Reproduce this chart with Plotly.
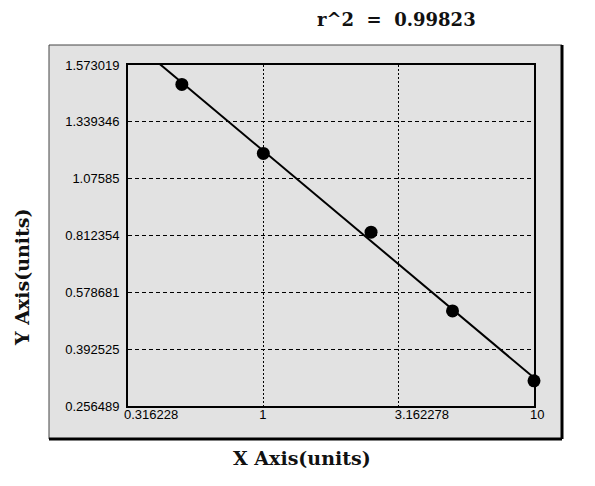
import numpy as np
import plotly.graph_objects as go

# ---- data ----
x_values = [0.5, 1.0, 2.5, 5.0, 10.0]
y_values = [1.498, 1.195, 0.827, 0.512, 0.311]
x_tick_values = [0.316228, 1, 3.162278, 10]
x_tick_labels = ["0.316228", "1", "3.162278", "10"]
y_tick_values = [0.256489, 0.392525, 0.578681, 0.812354, 1.07585, 1.339346, 1.573019]
y_tick_labels = ["0.256489", "0.392525", "0.578681", "0.812354", "1.07585", "1.339346", "1.573019"]
r2_text = "r^2  =  0.99823"

# ---- logistic (logit-type) y scale used by the original chart ----
Y_MID = 1.07585
def yscale(v):
    return np.arctanh(np.asarray(v, dtype=float) / Y_MID - 1.0)

ty = yscale(y_values)
lx = np.log10(x_values)
slope, intercept = np.polyfit(lx, ty, 1)
fit_lx = np.array([np.log10(x_tick_values[0]), np.log10(x_tick_values[-1])])
fit_x = 10 ** fit_lx
fit_t = slope * fit_lx + intercept

# ---- geometry (page pixels; page body has an 8px margin) ----
OFF = 8
W, H = 595 - OFF, 486 - OFF
PL, PR, PT, PB = 128 - OFF, 534 - OFF, 65 - OFF, 406 - OFF
def px(xp):
    return (xp - OFF - PL) / (PR - PL)
def py(yp):
    return (PB - (yp - OFF)) / (PB - PT)

GREY = "#e2e2e2"
fig = go.Figure()
fig.add_trace(go.Scatter(x=fit_x, y=fit_t, mode="lines",
                         line=dict(color="black", width=2), hoverinfo="skip",
                         showlegend=False))
fig.add_trace(go.Scatter(x=x_values, y=ty, mode="markers",
                         marker=dict(color="black", size=13, symbol="circle"),
                         cliponaxis=False, showlegend=False))

tick_font = dict(family="Liberation Sans, Arial, sans-serif", size=13, color="black")
fig.update_xaxes(type="log", range=[np.log10(x_tick_values[0]), np.log10(x_tick_values[-1])],
                 tickvals=x_tick_values, ticktext=x_tick_labels,
                 ticklabelposition="outside right", ticklabelshift=-5, ticklabelstandoff=-5,
                 showline=True, linecolor="black", linewidth=2, mirror=True,
                 showgrid=True, gridcolor="black", gridwidth=1, griddash="2px,2px",
                 zeroline=False, ticks="", tickfont=tick_font)
fig.update_yaxes(range=[float(yscale(y_tick_values[0])), float(yscale(y_tick_values[-1]))],
                 tickvals=yscale(y_tick_values), ticktext=y_tick_labels,
                 showline=True, linecolor="black", linewidth=2, mirror=True,
                 showgrid=True, gridcolor="black", gridwidth=1, griddash="4px,3px",
                 zeroline=False, ticks="", ticklabelstandoff=4, tickfont=tick_font)

# outer grey panel with 3D style border
x0, x1, y0, y1 = px(49), px(562), py(439), py(45)
fig.add_shape(type="rect", xref="paper", yref="paper", x0=x0, x1=x1, y0=y0, y1=y1,
              fillcolor=GREY, line=dict(color="#444", width=1), layer="below")
fig.add_shape(type="line", xref="paper", yref="paper", x0=x1, x1=x1, y0=y0, y1=y1,
              line=dict(color="black", width=3))
fig.add_shape(type="line", xref="paper", yref="paper", x0=x0, x1=x1, y0=y0, y1=y0,
              line=dict(color="black", width=3))

serif = "DejaVu Serif, Liberation Serif, serif"
fig.add_annotation(text="<b>" + r2_text + "</b>", xref="paper", yref="paper",
                   x=px(396), y=py(20), showarrow=False, xanchor="center", yanchor="middle",
                   font=dict(family=serif, size=18, color="#111"))
fig.add_annotation(text="<b>X Axis(units)</b>", xref="paper", yref="paper",
                   x=px(302), y=py(458), showarrow=False, xanchor="center", yanchor="middle",
                   font=dict(family=serif, size=19, color="#111"))
fig.add_annotation(text="<b>Y Axis(units)</b>", xref="paper", yref="paper",
                   x=px(22), y=py(278), showarrow=False, xanchor="center", yanchor="middle",
                   textangle=-90, font=dict(family=serif, size=19, color="#111"))

fig.update_layout(width=W, height=H, margin=dict(l=PL, r=W - PR, t=PT, b=H - PB),
                  paper_bgcolor="white", plot_bgcolor=GREY, showlegend=False)
fig.write_html("out.html")
